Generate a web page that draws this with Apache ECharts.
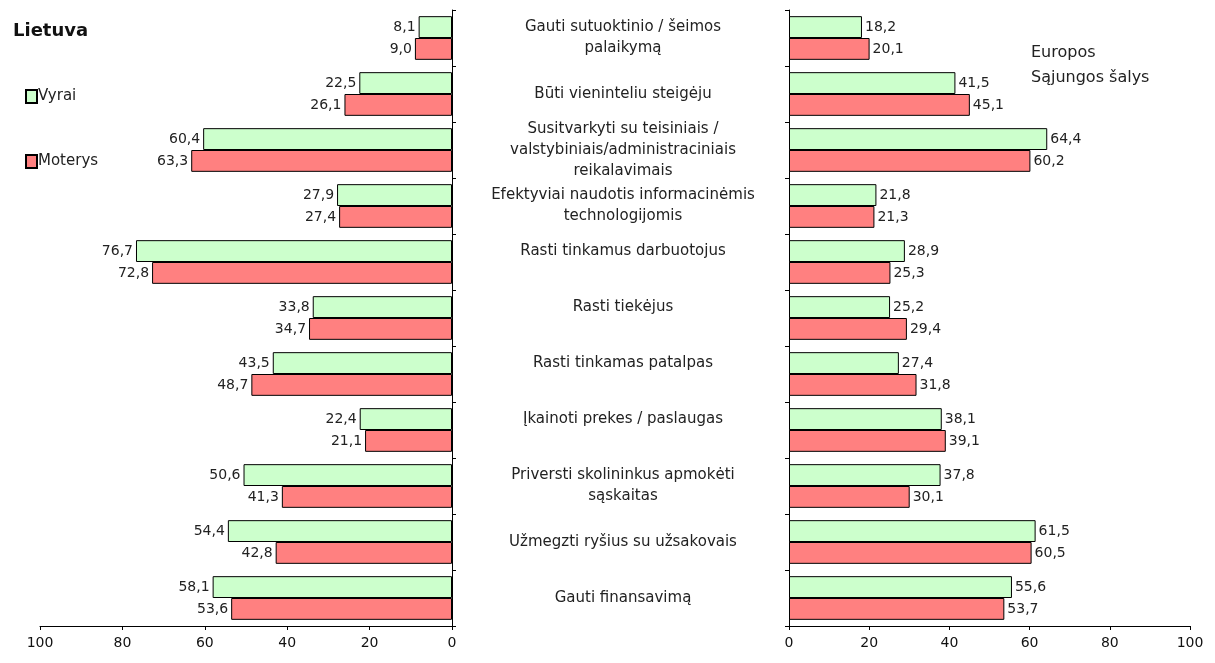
<!DOCTYPE html>
<html><head><meta charset="utf-8">
<script src="https://cdn.jsdelivr.net/npm/echarts@6/dist/echarts.min.js"></script>
<style>html,body{margin:0;padding:0;background:#fff}#c{width:1215px;height:663px}</style>
</head><body><div id="c"></div>
<script>
// Category labels (middle column), wrapped as in the picture
const categories = [
  "Gauti sutuoktinio / šeimos\npalaikymą",
  "Būti vieninteliu steigėju",
  "Susitvarkyti su teisiniais /\nvalstybiniais/administraciniais\nreikalavimais",
  "Efektyviai naudotis informacinėmis\ntechnologijomis",
  "Rasti tinkamus darbuotojus\n ",
  "Rasti tiekėjus\n ",
  "Rasti tinkamas patalpas\n ",
  "Įkainoti prekes / paslaugas\n ",
  "Priversti skolininkus apmokėti\nsąskaitas",
  "Užmegzti ryšius su užsakovais",
  "Gauti finansavimą"
];
const seriesNames = ["Vyrai", "Moterys"];
const ltMen   = [8.1, 22.5, 60.4, 27.9, 76.7, 33.8, 43.5, 22.4, 50.6, 54.4, 58.1];
const ltWomen = [9.0, 26.1, 63.3, 27.4, 72.8, 34.7, 48.7, 21.1, 41.3, 42.8, 53.6];
const euMen   = [18.2, 41.5, 64.4, 21.8, 28.9, 25.2, 27.4, 38.1, 37.8, 61.5, 55.6];
const euWomen = [20.1, 45.1, 60.2, 21.3, 25.3, 29.4, 31.8, 39.1, 30.1, 60.5, 53.7];
const leftTitle = "Lietuva";
const rightTitle = "Europos\nSąjungos šalys";

const FONT = "DejaVu Sans, Verdana, sans-serif";
const GREEN = "#ccffcc", RED = "#ff8080";
const fmt = p => p.value.toFixed(1).replace('.', ',');

function bar(name, data, color, xi, pos) {
  return {
    name, type: 'bar', data, xAxisIndex: xi, yAxisIndex: xi,
    barGap: '0%', barCategoryGap: '22%',
    itemStyle: { color, borderColor: '#000', borderWidth: 1 },
    label: { show: true, position: pos, distance: 3, formatter: fmt,
      color: '#222', fontFamily: FONT, fontSize: 14 },
    emphasis: { disabled: true }, animation: false
  };
}

const chart = echarts.init(document.getElementById('c'), null, { renderer: 'canvas' });
const axisLine = { show: true, lineStyle: { color: '#000', width: 1 } };
const tick = { show: true, length: 4, lineStyle: { color: '#000' } };
chart.setOption({
  backgroundColor: '#fff',
  animation: false,
  title: [
    { text: leftTitle, left: 8, top: 17, textStyle: { fontFamily: FONT, fontSize: 18, fontWeight: 'bold', color: '#111' } },
    { text: rightTitle, left: 1026, top: 35, textStyle: { fontFamily: FONT, fontSize: 16, fontWeight: 'normal', color: '#222', lineHeight: 25 } }
  ],
  legend: {
    data: seriesNames, orient: 'vertical', left: 20, top: 84, itemGap: 50,
    itemWidth: 11, itemHeight: 13, icon: 'rect',
    textStyle: { fontFamily: FONT, fontSize: 15, color: '#222', padding: [0, 0, 0, -4] },
    selectedMode: false
  },
  grid: [
    { left: 40, right: 763, top: 10, bottom: 37 },
    { left: 789, right: 25, top: 10, bottom: 37 }
  ],
  xAxis: [
    { gridIndex: 0, type: 'value', inverse: true, min: 0, max: 100, interval: 20,
      axisLine, axisTick: tick, splitLine: { show: false },
      axisLabel: { fontFamily: FONT, fontSize: 14, color: '#111', margin: 10 } },
    { gridIndex: 1, type: 'value', min: 0, max: 100, interval: 20,
      axisLine, axisTick: tick, splitLine: { show: false },
      axisLabel: { fontFamily: FONT, fontSize: 14, color: '#111', margin: 10 } }
  ],
  yAxis: [
    { gridIndex: 0, type: 'category', data: categories, inverse: true, position: 'right',
      axisLine, axisTick: tick, axisLabel: { show: false } },
    { gridIndex: 1, type: 'category', data: categories, inverse: true, position: 'left',
      axisLine, axisTick: tick,
      axisLabel: { show: true, align: 'center', margin: 166, fontFamily: FONT, fontSize: 15,
        color: '#222', lineHeight: 21, interval: 0 } }
  ],
  series: [
    bar(seriesNames[0], ltMen, GREEN, 0, 'left'),
    bar(seriesNames[1], ltWomen, RED, 0, 'left'),
    bar(seriesNames[0], euMen, GREEN, 1, 'right'),
    bar(seriesNames[1], euWomen, RED, 1, 'right')
  ]
});
</script>
</body></html>
